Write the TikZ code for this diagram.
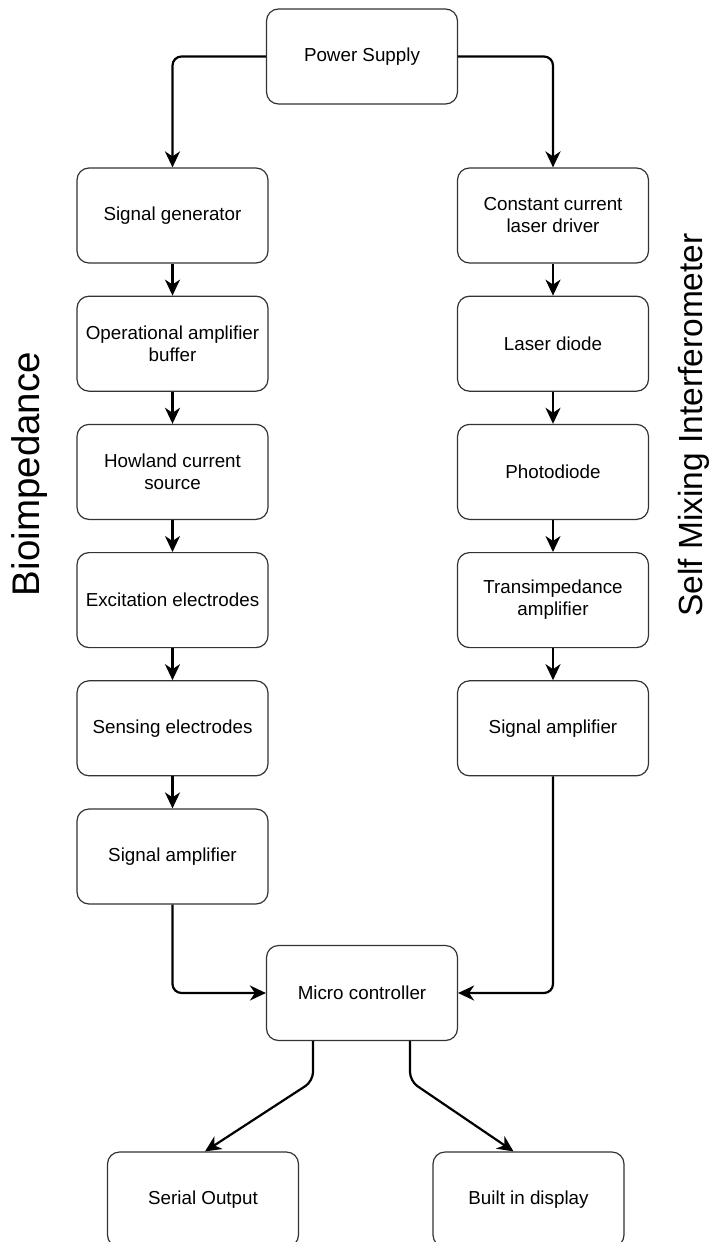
\documentclass[tikz,border=0pt]{standalone}
\usepackage{fontspec}
\setmainfont{Liberation Sans}
\usetikzlibrary{arrows.meta}
\usetikzlibrary{positioning}

\begin{document}
\begin{tikzpicture}[x=1pt,y=-1pt,node distance=32pt,
	block/.style={draw=black!80,line width=1.2pt,rounded corners=12pt,minimum width=191pt,minimum height=95pt,align=center,inner sep=2pt,font=\fontsize{18.8}{22}\selectfont},
	arr/.style={-{Stealth[length=16pt,width=15pt,inset=5pt]},line width=2.2pt,rounded corners=9pt},
	side/.style={rotate=90,inner sep=0pt}]
	\useasboundingbox (0,0) rectangle (717,1242);
	\node[block] (ps) at (362,56.5) {Power Supply};
	\node[block] (sg) at (172.5,215.5) {Signal generator};
	\node[block,below=of sg] (oab) {Operational amplifier\\buffer};
	\node[block,below=of oab] (hcs) {Howland current\\source};
	\node[block,below=of hcs] (exe) {Excitation electrodes};
	\node[block,below=of exe] (sen) {Sensing electrodes};
	\node[block,below=of sen] (lsa) {Signal amplifier};
	\node[block] (ccd) at (553,215.5) {Constant current\\laser driver};
	\node[block,below=of ccd] (ld) {Laser diode};
	\node[block,below=of ld] (pd) {Photodiode};
	\node[block,below=of pd] (tia) {Transimpedance\\amplifier};
	\node[block,below=of tia] (rsa) {Signal amplifier};
	\node[block] (mc) at (362,993) {Micro controller};
	\node[block] (so) at (203,1199.5) {Serial Output};
	\node[block] (bd) at (528.5,1199.5) {Built in display};
	\node[side,font=\fontsize{38.5}{40}\selectfont] (bio) at (30,474) {Bioimpedance};
	\node[side,font=\fontsize{33.5}{36}\selectfont] (smi) at (694,425) {Self Mixing Interferometer};

	\draw[arr] (ps.west) -| (sg.north);
	\draw[arr] (ps.east) -| (ccd.north);
	\foreach \a/\b in {sg/oab,oab/hcs,hcs/exe,exe/sen,sen/lsa,ccd/ld,ld/pd,pd/tia,tia/rsa}
		\draw[arr] (\a.south) -- (\b.north);
	\draw[arr] (lsa.south) |- (mc.west);
	\draw[arr] (rsa.south) |- (mc.east);
	\draw[arr] ([xshift=-49pt]mc.south) -- ++(0,40) -- ([xshift=2pt]so.north);
	\draw[arr] ([xshift=48pt]mc.south) -- ++(0,40) -- ([xshift=-15pt]bd.north);
\end{tikzpicture}
\end{document}
